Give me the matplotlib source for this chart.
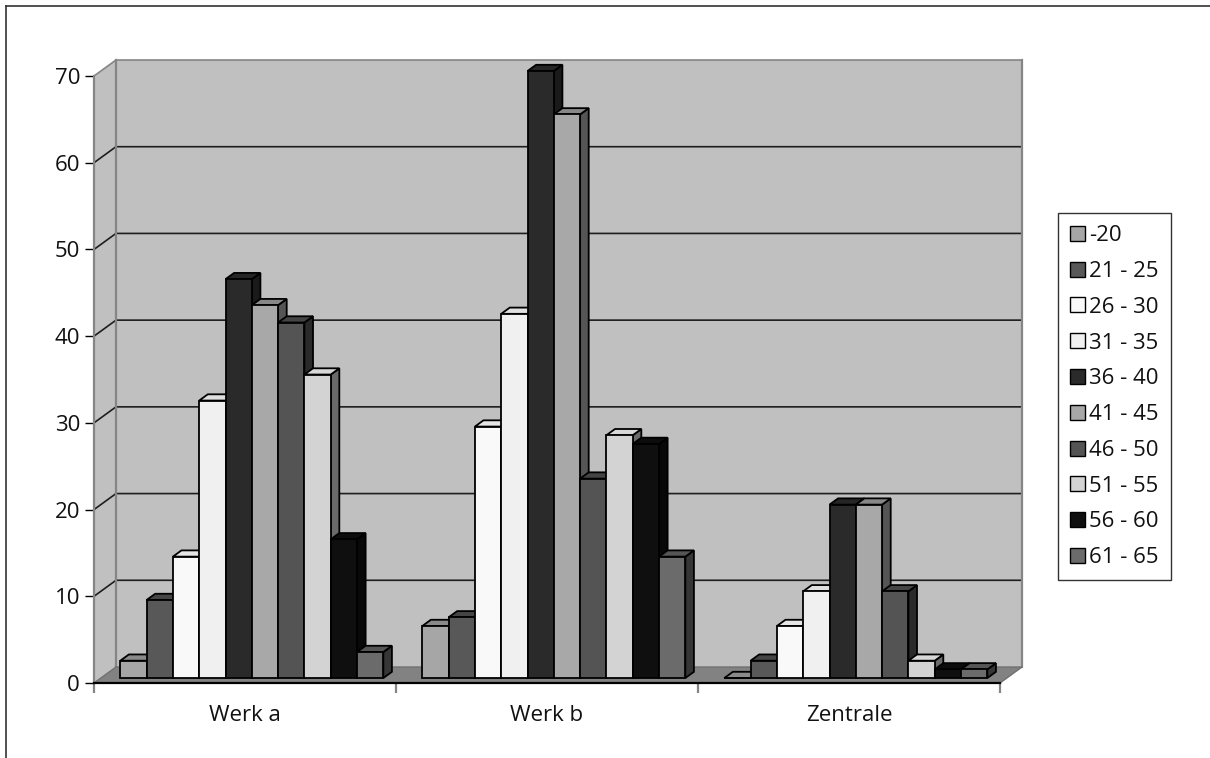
import numpy as np
import matplotlib
matplotlib.use('Agg')
import matplotlib.pyplot as plt
from matplotlib.patches import Polygon, Patch
from matplotlib.lines import Line2D

plt.rcParams['font.family'] = ['Open Sans', 'DejaVu Sans']

#--------------------DATA------------------------#
sites = ['Werk a', 'Werk b', 'Zentrale']
age_groups = ['-20', '21 - 25', '26 - 30', '31 - 35', '36 - 40',
              '41 - 45', '46 - 50', '51 - 55', '56 - 60', '61 - 65']

werk_a = [2, 9, 14, 32, 46, 43, 41, 35, 16, 3]
werk_b = [6, 7, 29, 42, 70, 65, 23, 28, 27, 14]
zentrale = [0, 2, 6, 10, 20, 20, 10, 2, 1, 1]

y_ticks = [0, 10, 20, 30, 40, 50, 60, 70]

# shades per age group: front face, top face, right side face
front_cols = ['#a6a6a6', '#585858', '#f9f9f9', '#f0f0f0', '#2a2a2a',
              '#a8a8a8', '#545454', '#d3d3d3', '#0f0f0f', '#6b6b6b']
top_cols = ['#8a8a8a', '#454545', '#e6e6e6', '#e0e0e0', '#252525',
            '#888888', '#444444', '#d8d8d8', '#0c0c0c', '#555555']
side_cols = ['#555555', '#2c2c2c', '#7c7c7c', '#787878', '#1a1a1a',
             '#555555', '#2a2a2a', '#6a6a6a', '#080808', '#363636']

#--------------------GEOMETRY------------------------#
W_PX, H_PX = 1210, 758
X0_PX, X1_PX = 94, 1000      # front plane, category axis
Y0_PX, Y1_PX = 683, 76       # front plane, value 0 and 70
YMAX = 70
DEPTH_PX = (22, -16)         # offset from front to back wall

DX = DEPTH_PX[0] / (X1_PX - X0_PX) * 3
DY = -DEPTH_PX[1] / (Y0_PX - Y1_PX) * YMAX

CLUSTER = 0.871              # share of a category taken by the bars
BW = CLUSTER / len(age_groups)
T0, T1 = 0.31, 0.70          # bar depth range


def proj(x, y, t):
    return (x + DX * t, y + DY * t)


fig = plt.figure(figsize=(W_PX / 100, H_PX / 100), dpi=100)
ax = fig.add_axes([X0_PX / W_PX, 1 - Y0_PX / H_PX,
                   (X1_PX - X0_PX) / W_PX, (Y0_PX - Y1_PX) / H_PX])
ax.set_xlim(0, 3)
ax.set_ylim(0, YMAX)
ax.patch.set_alpha(0)

ncat = len(sites)
wall = '#c0c0c0'
edge = '#858585'

# walls and floor
back = [proj(0, 0, 1), proj(ncat, 0, 1), proj(ncat, YMAX, 1), proj(0, YMAX, 1)]
side = [proj(0, 0, 0), proj(0, 0, 1), proj(0, YMAX, 1), proj(0, YMAX, 0)]
floor = [proj(0, 0, 0), proj(ncat, 0, 0), proj(ncat, 0, 1), proj(0, 0, 1)]
ax.add_patch(Polygon(back, closed=True, fc=wall, ec='none', clip_on=False, zorder=1))
ax.add_patch(Polygon(side, closed=True, fc=wall, ec='none', clip_on=False, zorder=1))

for v in y_ticks[1:]:
    pts = [proj(0, v, 0), proj(0, v, 1), proj(ncat, v, 1)]
    col = edge if v == YMAX else '#1e1e1e'
    ax.plot([p[0] for p in pts], [p[1] for p in pts], color=col,
            lw=1.2, clip_on=False, zorder=1.2, solid_capstyle='butt')

for a, b in [((0, 0, 1), (0, YMAX, 1)), ((ncat, 0, 1), (ncat, YMAX, 1))]:
    p, q = proj(*a), proj(*b)
    ax.plot([p[0], q[0]], [p[1], q[1]], color=edge, lw=1.6, clip_on=False, zorder=1.3)

ax.add_patch(Polygon(floor, closed=True, fc='#828282', ec='#707070', lw=1.0,
                     clip_on=False, zorder=1.4))

# bars, drawn left to right so neighbours overlap correctly
series = np.array([werk_a, werk_b, zentrale])
for c in range(ncat):
    for i in range(len(age_groups)):
        v = series[c, i]
        x0 = c + 0.5 - CLUSTER / 2 + i * BW
        x1 = x0 + BW
        faces = [
            ([proj(x1, 0, T0), proj(x1, 0, T1), proj(x1, v, T1), proj(x1, v, T0)], side_cols[i]),
            ([proj(x0, v, T0), proj(x1, v, T0), proj(x1, v, T1), proj(x0, v, T1)], top_cols[i]),
            ([proj(x0, 0, T0), proj(x1, 0, T0), proj(x1, v, T0), proj(x0, v, T0)], front_cols[i]),
        ]
        for pts, col in faces:
            ax.add_patch(Polygon(pts, closed=True, fc=col, ec='black', lw=1.3,
                                 joinstyle='miter', clip_on=False, zorder=3))

#--------------------AXES------------------------#
for s in ['top', 'right']:
    ax.spines[s].set_visible(False)
ax.spines['left'].set_color(edge)
ax.spines['left'].set_linewidth(1.6)
ax.spines['bottom'].set_color('black')
ax.spines['bottom'].set_linewidth(1.6)
ax.spines['left'].set_zorder(2)
ax.spines['bottom'].set_zorder(2)

ax.set_yticks(y_ticks)
ax.tick_params(axis='y', direction='out', length=6.5, width=1.0, color='black',
               pad=3.5, labelsize=16, labelcolor='#111111')

ax.set_xticks(range(ncat + 1))
ax.set_xticklabels([])
ax.tick_params(axis='x', which='major', direction='out', length=7.5, width=1.6,
               color=edge)
ax.set_xticks(np.arange(ncat) + 0.5, minor=True)
ax.set_xticklabels(sites, minor=True)
ax.tick_params(axis='x', which='minor', length=0, pad=16, labelsize=16,
               labelcolor='#111111')

#--------------------LEGEND------------------------#
handles = [Patch(fc=col, ec='black', lw=1.0) for col in front_cols]
leg = fig.legend(handles, age_groups, loc='upper left',
                 bbox_to_anchor=(1058 / W_PX, 1 - 213 / H_PX),
                 fontsize=16, frameon=True, fancybox=False, shadow=False,
                 handlelength=0.66, handleheight=0.66, handletextpad=0.2,
                 labelspacing=0.665, borderpad=0.55, borderaxespad=0)
leg.get_frame().set_edgecolor('black')
leg.get_frame().set_linewidth(1.0)
for t in leg.get_texts():
    t.set_color('#111111')

# outer frame
fig.add_artist(Line2D([5.5 / W_PX, 5.5 / W_PX], [0, 1 - 5.5 / H_PX],
                      transform=fig.transFigure, color='#333333', lw=1.2))
fig.add_artist(Line2D([5.5 / W_PX, 1], [1 - 5.5 / H_PX, 1 - 5.5 / H_PX],
                      transform=fig.transFigure, color='#333333', lw=1.2))

fig.savefig('out.png', dpi=100, facecolor='white')
